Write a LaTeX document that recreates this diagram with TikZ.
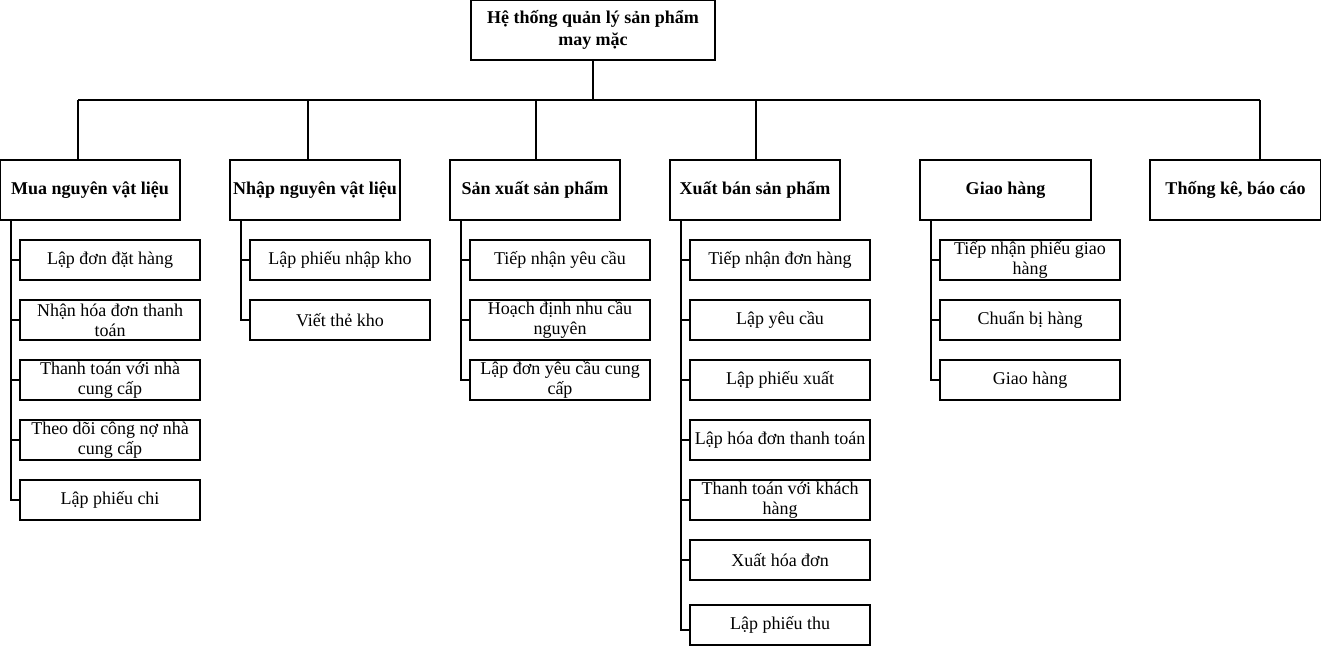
\documentclass[tikz,border=0pt]{standalone}
\usepackage{fontspec}
\setmainfont{Liberation Serif}
\usetikzlibrary{positioning}

\begin{document}
\begin{tikzpicture}[x=0.75pt, y=-0.75pt, line width=0.8pt, node distance=15pt,
        root_box/.style={draw, rectangle, align=center, inner sep=0pt, outer sep=0pt, minimum width=183pt, minimum height=45pt, font=\fontsize{13.5}{16.5}\selectfont\bfseries},
        main_box/.style={draw, rectangle, align=center, inner sep=0pt, outer sep=0pt, minimum width=127.5pt, minimum height=45pt, font=\fontsize{13.5}{15}\selectfont\bfseries},
        sub_box/.style={draw, rectangle, align=center, inner sep=0pt, outer sep=0pt, minimum width=135pt, minimum height=30pt, font=\fontsize{13.5}{15}\selectfont}]

        \useasboundingbox (0,0) rectangle (1321,646);

        % Root of the tree
        \node[root_box] (root) at (593,30) {Hệ thống quản lý sản phẩm\\may mặc};

        % Main functions
        \node[main_box, minimum width=135pt] (mua) at (90,190) {Mua nguyên vật liệu};
        \node[main_box] (nhap) at (315,190) {Nhập nguyên vật liệu};
        \node[main_box] (sanxuat) at (535,190) {Sản xuất sản phẩm};
        \node[main_box] (xuatban) at (755,190) {Xuất bán sản phẩm};
        \node[main_box, minimum width=128.25pt] (giaohang) at (1005.5,190) {Giao hàng};
        \node[main_box, minimum width=128.25pt] (thongke) at (1235.5,190) {Thống kê, báo cáo};

        % Mua nguyen vat lieu
        \node[sub_box, below right=15pt and 15pt of mua.south west] (mua1) {Lập đơn đặt hàng};
        \node[sub_box, below=of mua1] (mua2) {Nhận hóa đơn thanh\\toán};
        \node[sub_box, below=of mua2] (mua3) {Thanh toán với nhà\\cung cấp};
        \node[sub_box, below=of mua3] (mua4) {Theo dõi công nợ nhà\\cung cấp};
        \node[sub_box, below=of mua4] (mua5) {Lập phiếu chi};

        % Nhap nguyen vat lieu
        \node[sub_box, below right=15pt and 15pt of nhap.south west] (nhap1) {Lập phiếu nhập kho};
        \node[sub_box, below=of nhap1] (nhap2) {Viết thẻ kho};

        % San xuat san pham
        \node[sub_box, below right=15pt and 15pt of sanxuat.south west] (sx1) {Tiếp nhận yêu cầu};
        \node[sub_box, below=of sx1] (sx2) {Hoạch định nhu cầu\\nguyên};
        \node[sub_box, below=of sx2] (sx3) {Lập đơn yêu cầu cung\\cấp};

        % Xuat ban san pham
        \node[sub_box, below right=15pt and 15pt of xuatban.south west] (xb1) {Tiếp nhận đơn hàng};
        \node[sub_box, below=of xb1] (xb2) {Lập yêu cầu};
        \node[sub_box, below=of xb2] (xb3) {Lập phiếu xuất};
        \node[sub_box, below=of xb3] (xb4) {Lập hóa đơn thanh toán};
        \node[sub_box, below=of xb4] (xb5) {Thanh toán với khách\\hàng};
        \node[sub_box, below=of xb5] (xb6) {Xuất hóa đơn};
        \node[sub_box, below=18.75pt of xb6] (xb7) {Lập phiếu thu};

        % Giao hang
        \node[sub_box, below right=15pt and 15pt of giaohang.south west] (gh1) {Tiếp nhận phiếu giao\\hàng};
        \node[sub_box, below=of gh1] (gh2) {Chuẩn bị hàng};
        \node[sub_box, below=of gh2] (gh3) {Giao hàng};

        % Bus from the root to the main functions
        \coordinate (bus_left) at (78,100);
        \coordinate (bus_right) at (1260,100);
        \coordinate (drop_nhap) at (308,100);
        \coordinate (drop_sx) at (536,100);
        \coordinate (drop_xb) at (756,100);

        \draw (root.south) -- (root.south |- bus_left);
        \draw (bus_left) -- (bus_right);
        \draw (bus_left) -- (bus_left |- mua.north);
        \draw (drop_nhap) -- (drop_nhap |- nhap.north);
        \draw (drop_sx) -- (drop_sx |- sanxuat.north);
        \draw (drop_xb) -- (drop_xb |- xuatban.north);
        \draw (bus_right) -- (bus_right |- thongke.north);

        % Spines down to the sub functions
        \foreach \c in {mua1, mua2, mua3, mua4, mua5}
            \draw ([xshift=8.25pt]mua.south west) |- (\c.west);
        \foreach \c in {nhap1, nhap2}
            \draw ([xshift=8.25pt]nhap.south west) |- (\c.west);
        \foreach \c in {sx1, sx2, sx3}
            \draw ([xshift=8.25pt]sanxuat.south west) |- (\c.west);
        \foreach \c in {xb1, xb2, xb3, xb4, xb5, xb6}
            \draw ([xshift=8.25pt]xuatban.south west) |- (\c.west);
        \draw ([xshift=8.25pt]xuatban.south west) |- ([yshift=-3.75pt]xb7.west);
        \foreach \c in {gh1, gh2, gh3}
            \draw ([xshift=8.25pt]giaohang.south west) |- (\c.west);
    \end{tikzpicture}
\end{document}
